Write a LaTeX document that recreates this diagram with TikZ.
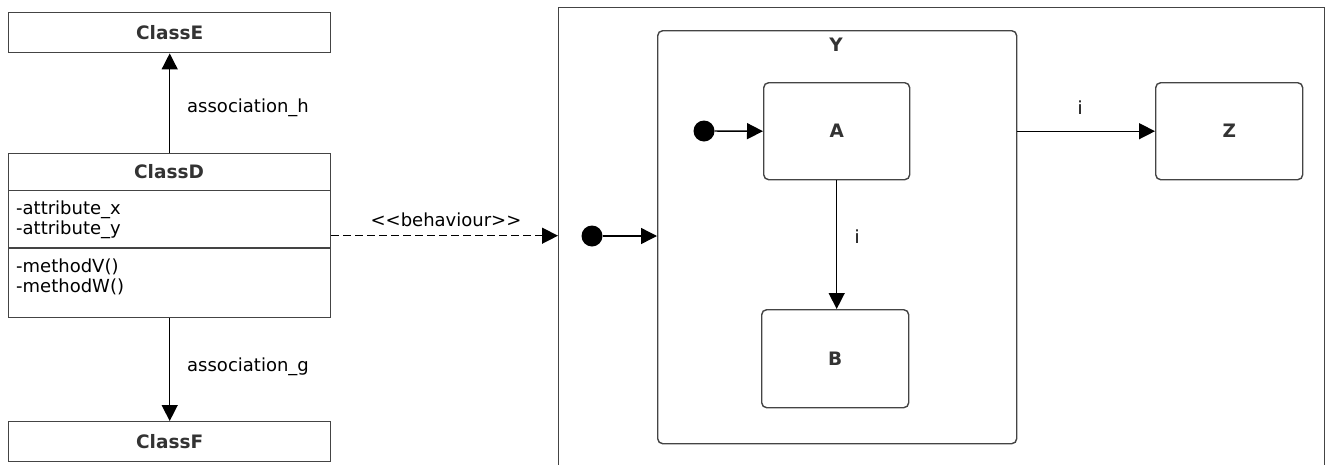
\documentclass[tikz,border=0pt]{standalone}
\usepackage{fontspec}
\setmainfont{DejaVu Sans}
\usetikzlibrary{arrows.meta}
\definecolor{edge}{HTML}{444444}
\definecolor{ink}{HTML}{333333}
\begin{document}
\begin{tikzpicture}[x=1pt,y=-1pt,
  font=\fontsize{18}{21}\selectfont,
  box/.style={draw=edge, line width=1.4pt, fill=white, inner sep=0pt, anchor=north west},
  classbox/.style={box},
  statebox/.style={box, rounded corners=5pt},
  title/.style={text=ink, font=\fontsize{18.5}{21}\selectfont\bfseries},
  member/.style={anchor=west, inner sep=0pt, text=black},
  lbl/.style={inner sep=0pt, text=black},
  tip/.style={-{Triangle[length=16pt,width=16pt]}},
  link/.style={tip, draw=black, line width=1.4pt},
  dot/.style={circle, fill=black, minimum size=21pt, inner sep=0pt},
]
\useasboundingbox (0,0) rectangle (1326,464);
\clip (0,0) rectangle (1326,464);

% class diagram on the left
\node[classbox, minimum width=322pt, minimum height=40pt] (classE) at (8,12) {};
\node[title] at (classE.center) {ClassE};

\node[classbox, minimum width=322pt, minimum height=164pt] (classD) at (8,153) {};
\node[title] at (169,172) {ClassD};
\draw[draw=edge, line width=1.4pt] (classD.west |- 0,190.5) -- (classD.east |- 0,190.5);
\draw[draw=edge, line width=1.4pt] (classD.west |- 0,248) -- (classD.east |- 0,248);
\node[member] (attx) at (16,210) {-attribute\_x};
\node[member] (atty) at (16,230) {-attribute\_y};
\node[member] (metv) at (16,267) {-methodV()};
\node[member] (metw) at (16,287) {-methodW()};

\node[classbox, minimum width=322pt, minimum height=40pt] (classF) at (8,421) {};
\node[title] at (classF.center) {ClassF};

\draw[link] (classD.north) -- (classE.south);
\node[lbl, anchor=west] (assoch) at (187,108) {association\_h};
\draw[link] (classD.south) -- (classF.north);
\node[lbl, anchor=west] (assocg) at (187,367) {association\_g};

% behaviour frame on the right
\node[box, minimum width=766pt, minimum height=520pt] (frame) at (558,7) {};
\draw[link, dash pattern=on 8pt off 4pt] (classD.east) -- (classD.east -| frame.west);
\node[lbl] (beh) at (446,220) {<{}<behaviour>{}>};

\node[dot] (init1) at (592,236) {};
\node[statebox, minimum width=359pt, minimum height=413pt] (stY) at (657,30) {};
\node[title] at (836,45) {Y};
\draw[link] (init1) -- (init1 -| stY.west);

\node[dot] (init2) at (704,131) {};
\node[statebox, minimum width=146pt, minimum height=97pt] (stA) at (763,82) {};
\node[title] at (stA.center) {A};
\draw[link] (init2) -- (stA.west);

\node[statebox, minimum width=147pt, minimum height=98pt] (stB) at (761,309) {};
\node[title] at (stB.center) {B};
\draw[link] (stA.south) -- (stA.south |- stB.north);
\node[lbl] (ti1) at (857,237) {i};

\node[statebox, minimum width=147pt, minimum height=97pt] (stZ) at (1155,82) {};
\node[title] at (stZ.center) {Z};
\draw[link] (stZ.west -| stY.east) -- (stZ.west);
\node[lbl] (ti2) at (1080,108) {i};
\end{tikzpicture}
\end{document}
